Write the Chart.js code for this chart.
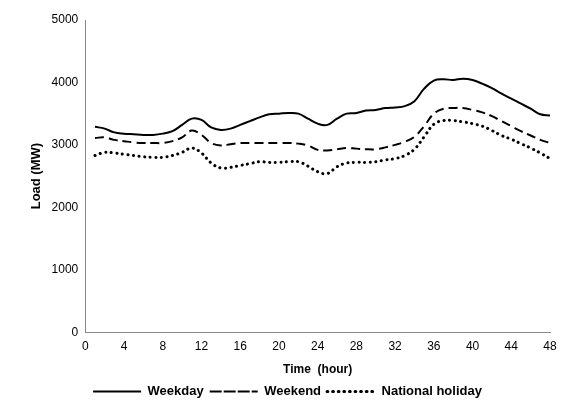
<!DOCTYPE html>
<html>
<head>
<meta charset="UTF-8">
<script src="https://cdn.jsdelivr.net/npm/chart.js"></script>
<style>
  body { margin: 0; background: #fff; }
  #wrap { width: 562px; height: 408px; }
</style>
</head>
<body>
<div id="wrap"><canvas id="c"></canvas></div>
<script>
const hours = Array.from({length: 48}, (_, i) => i + 1);
const weekday = [3290,3260,3200,3180,3170,3160,3160,3180,3220,3320,3420,3400,3280,3240,3260,3320,3380,3440,3490,3500,3510,3500,3420,3340,3320,3420,3500,3510,3550,3560,3590,3600,3620,3700,3900,4030,4050,4040,4060,4040,3980,3910,3820,3740,3660,3580,3490,3470];
const weekend = [3110,3120,3080,3060,3040,3030,3030,3030,3060,3120,3230,3160,3030,2990,3010,3030,3030,3030,3030,3030,3030,3020,2990,2920,2910,2930,2950,2940,2930,2930,2960,3000,3050,3130,3300,3500,3580,3590,3590,3560,3520,3460,3380,3300,3220,3150,3080,3030];
const holiday = [2830,2880,2870,2850,2830,2810,2800,2800,2830,2880,2950,2870,2710,2630,2640,2670,2700,2730,2720,2720,2730,2730,2660,2570,2540,2650,2710,2720,2720,2730,2760,2780,2830,2930,3130,3330,3390,3390,3370,3340,3300,3230,3150,3090,3020,2950,2870,2780];

const toXY = arr => arr.map((v, i) => ({x: hours[i], y: v}));
const font = {family: 'Liberation Sans, Arial, sans-serif', size: 12};

new Chart(document.getElementById('c'), {
  type: 'line',
  data: {
    datasets: [
      {label: 'Weekday', data: toXY(weekday), borderColor: '#000', backgroundColor: 'transparent', borderWidth: 2, borderDash: []},
      {label: 'Weekend', data: toXY(weekend), borderColor: '#000', backgroundColor: 'transparent', borderWidth: 2, borderDash: [9, 5]},
      {label: 'National holiday', data: toXY(holiday), borderColor: '#000', backgroundColor: 'transparent', borderWidth: 3, borderDash: [0.1, 5.5], borderCapStyle: 'round'}
    ]
  },
  options: {
    responsive: true,
    maintainAspectRatio: false,
    animation: false,
    elements: { point: { radius: 0 }, line: { tension: 0.4 } },
    layout: { padding: { left: 25, right: 12, top: 20, bottom: 0 } },
    scales: {
      x: {
        type: 'linear', min: 0, max: 48,
        ticks: { stepSize: 4, color: '#000', font },
        grid: { display: false, drawTicks: true, tickLength: 4 },
        border: { color: '#888' },
        title: { display: true, text: 'Time  (hour)', color: '#000', font: {...font, weight: 'bold'}, padding: {top: 6, bottom: 2} }
      },
      y: {
        min: 0, max: 5000,
        ticks: { stepSize: 1000, color: '#000', font, callback: v => String(v) },
        grid: { display: false, tickLength: 4 },
        border: { color: '#888' },
        title: { display: true, text: 'Load (MW)', color: '#000', font: {...font, size: 13, weight: 'bold'} }
      }
    },
    plugins: {
      legend: {
        position: 'bottom',
        labels: { boxWidth: 48, boxHeight: 0, color: '#000', font: {...font, size: 13, weight: 'bold'}, padding: 6 }
      },
      tooltip: { enabled: false }
    }
  }
});
</script>
</body>
</html>
